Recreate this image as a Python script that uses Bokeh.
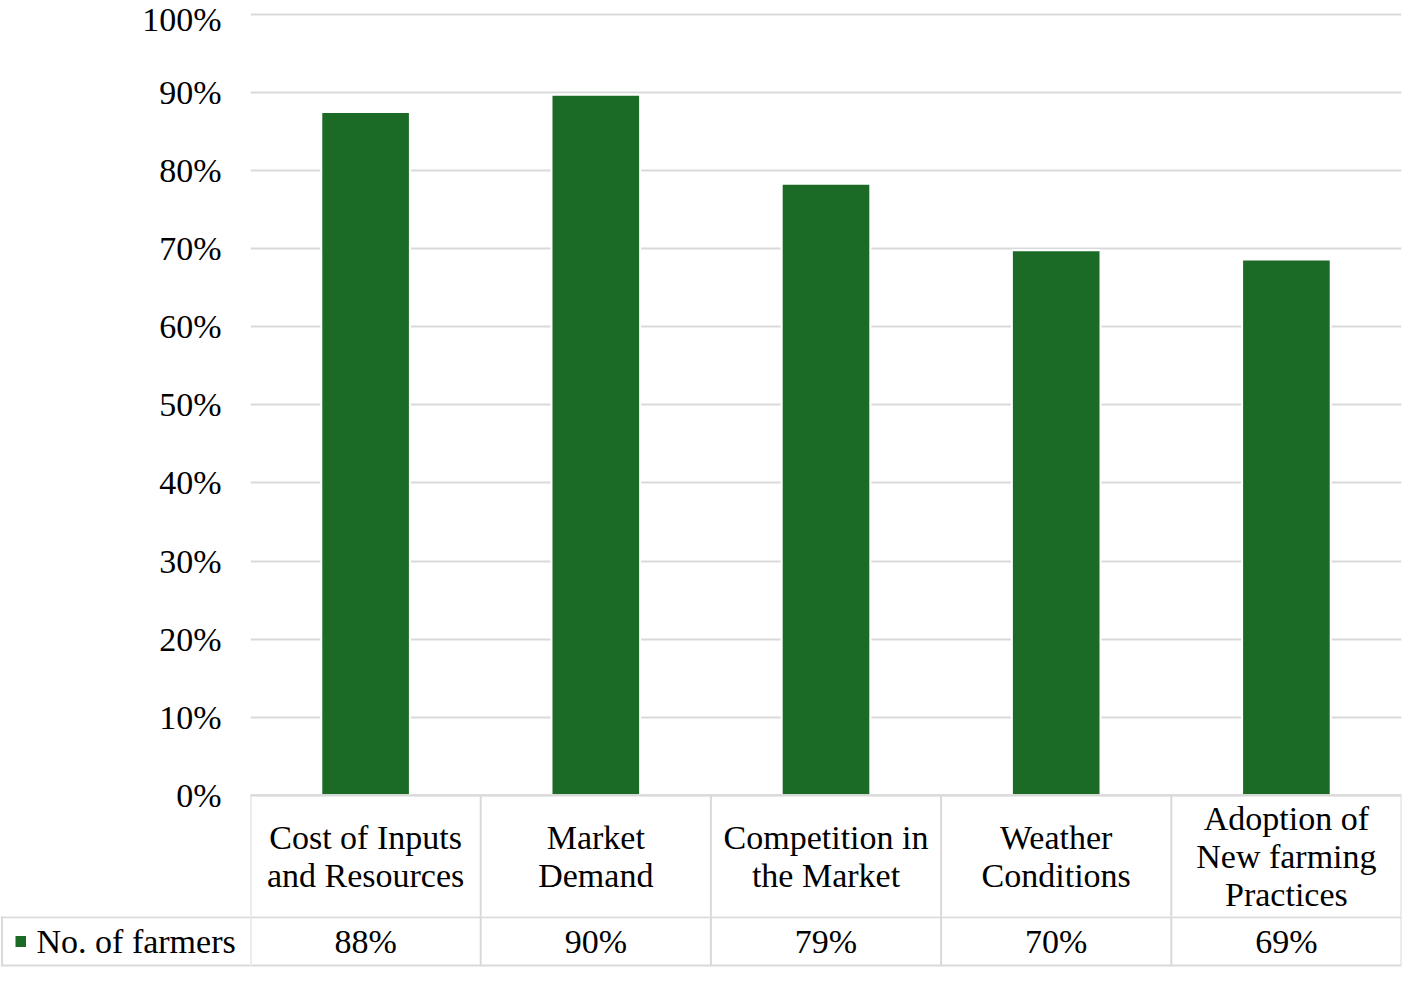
from bokeh.plotting import figure
from bokeh.layouts import column, row
from bokeh.models import FactorRange, Range1d, FixedTicker, PrintfTickFormatter
from bokeh.core.properties import value
from bokeh.embed import file_html
from bokeh.resources import INLINE

# ---- data ----
categories = ["Cost of Inputs and Resources", "Market Demand", "Competition in the Market",
              "Weather Conditions", "Adoption of New farming Practices"]
category_lines = ["Cost of Inputs\nand Resources", "Market\nDemand", "Competition in\nthe Market",
                  "Weather\nConditions", "Adoption of\nNew farming\nPractices"]
values = [87.5, 89.7, 78.3, 69.8, 68.6]
value_labels = ["88%", "90%", "79%", "70%", "69%"]
series_name = "No. of farmers"
y_ticks = list(range(0, 101, 10))

# ---- styles / layout ----
BAR = "#1b6b27"
GRID = "#d9d9d9"
FONT = "Liberation Serif"
FS = "34px"
W, H = 1405, 967
LEFT = 250
RIGHT = 4
TOP_H = 916
PX = 7.8108          # pixels per percentage point
Y0 = 794.85          # canvas y of the 0% line


def dy(canvas_y):
    return -(canvas_y - Y0) / PX


ROW1_BOTTOM = dy(916.8)
ROW2_BOTTOM = dy(965.0)
n = len(categories)
xr = FactorRange(factors=categories)


def base(fig):
    fig.outline_line_color = None
    fig.background_fill_color = "white"
    fig.border_fill_color = "white"
    fig.xgrid.visible = False
    fig.ygrid.visible = False
    return fig


# ---- main chart with first table row ----
p = figure(width=W, height=TOP_H, x_range=xr, y_range=Range1d(dy(TOP_H), dy(0)),
           output_backend="svg", toolbar_location=None, x_axis_location=None,
           min_border_left=LEFT, min_border_right=RIGHT, min_border_top=0, min_border_bottom=0)
base(p)
p.ygrid.visible = True
p.ygrid.ticker = FixedTicker(ticks=y_ticks)
p.ygrid.grid_line_color = GRID
p.ygrid.grid_line_width = 2

ax = p.yaxis[0]
ax.ticker = FixedTicker(ticks=y_ticks)
ax.formatter = PrintfTickFormatter(format="%d%%")
ax.axis_line_color = None
ax.major_tick_line_color = None
ax.minor_tick_line_color = None
ax.major_tick_out = 0
ax.major_tick_in = 0
ax.major_label_standoff = 29
ax.major_label_text_font = FONT
ax.major_label_text_font_size = FS
ax.major_label_text_color = "black"

p.vbar(x=categories, top=values, bottom=0, width=0.385, fill_color=BAR,
       line_color="white", line_width=2)

vx = list(range(n + 1))
p.segment(x0=[0], x1=[n], y0=[0], y1=[0], line_color=GRID, line_width=2)
p.segment(x0=vx, x1=vx, y0=[0] * len(vx), y1=[dy(TOP_H + 2)] * len(vx), line_color=GRID, line_width=2)
p.text(x=categories, y=[ROW1_BOTTOM / 2] * n, text=category_lines, text_font=value(FONT),
       text_font_size=value(FS), text_align="center", text_baseline="middle",
       text_line_height=1.03, text_color="black")

# ---- second table row: values ----
yr2 = Range1d(dy(H), dy(TOP_H))
row2_mid = (ROW1_BOTTOM + ROW2_BOTTOM) / 2

q = figure(width=W - LEFT, height=H - TOP_H, x_range=xr, y_range=yr2,
           output_backend="svg", toolbar_location=None, x_axis_location=None, y_axis_location=None,
           min_border_left=0, min_border_right=RIGHT, min_border_top=0, min_border_bottom=0)
base(q)
hy = [ROW1_BOTTOM, ROW2_BOTTOM]
q.segment(x0=[0] * 2, x1=[n] * 2, y0=hy, y1=hy, line_color=GRID, line_width=2)
q.segment(x0=vx, x1=vx, y0=[dy(TOP_H - 2)] * len(vx), y1=[ROW2_BOTTOM] * len(vx),
          line_color=GRID, line_width=2)
q.text(x=categories, y=[row2_mid] * n, text=value_labels, text_font=value(FONT),
       text_font_size=value(FS), text_align="center", text_baseline="middle", text_color="black")

# ---- legend cell of the data table ----
l = figure(width=LEFT, height=H - TOP_H, x_range=Range1d(0, LEFT), y_range=yr2,
           output_backend="svg", toolbar_location=None, x_axis_location=None, y_axis_location=None,
           min_border_left=0, min_border_right=0, min_border_top=0, min_border_bottom=0)
base(l)
l.segment(x0=[0] * 2, x1=[LEFT + 2] * 2, y0=hy, y1=hy, line_color=GRID, line_width=2)
l.segment(x0=[1.5], x1=[1.5], y0=[dy(TOP_H - 2)], y1=[ROW2_BOTTOM], line_color=GRID, line_width=2)
l.quad(left=[15.0], right=[25.5], top=[row2_mid + 5.5 / PX], bottom=[row2_mid - 5.5 / PX],
       fill_color=BAR, line_color=None)
l.text(x=[36.0], y=[row2_mid], text=[series_name], text_font=value(FONT),
       text_font_size=value(FS), text_align="left", text_baseline="middle", text_color="black")

layout = column(p, row(l, q, spacing=0), spacing=0)
open("out.html", "w").write(file_html(layout, INLINE))
